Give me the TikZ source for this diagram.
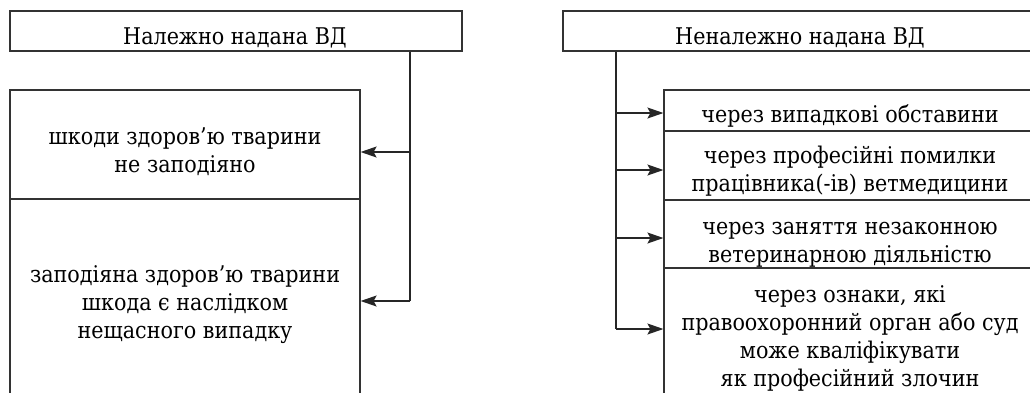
\documentclass[tikz,border=0pt]{standalone}
\usepackage{fontspec}
\setmainfont{DejaVu Serif Condensed}
\usetikzlibrary{shapes, arrows.meta}
\tikzstyle{line} = [draw, line width=1.2pt, black!85, -{Stealth[length=16pt, width=11pt, inset=3pt]}]
\tikzstyle{box} = [rectangle, draw=black!80, line width=1.2pt, inner sep=0pt]
\tikzstyle{txt} = [align=center, inner sep=0pt, anchor=base, font=\fontsize{23}{28}\selectfont]

\begin{document}
\begin{tikzpicture}[x=1pt, y=-1pt]
		\useasboundingbox (0,0) rectangle (1030,392);
		\clip (0,0) rectangle (1030,392);
		\def\lx{410}
		\def\rx{616}
		% left column
		\node[box, minimum width=452, minimum height=40] (L) at (236, 31) {};
		\node[box, minimum width=350, minimum height=109] (B1) at (185, 144.5) {};
		\node[box, minimum width=350, minimum height=202] (B2) at (185, 300) {};
		\node[txt] (tL) at (235, 44) {Належно надана ВД};
		\node[txt] (t1) at (185, 172) {шкоди здоров’ю тварини\\не заподіяно};
		\node[txt] (t2) at (185, 338) {заподіяна здоров’ю тварини\\шкода є наслідком\\нещасного випадку};
		
		% right column
		\node[box, minimum width=474, minimum height=40] (R) at (800, 31) {};
		\node[box, minimum width=373, minimum height=41] (R1) at (850.5, 110.5) {};
		\node[box, minimum width=373, minimum height=69] (R2) at (850.5, 165.5) {};
		\node[box, minimum width=373, minimum height=68] (R3) at (850.5, 234) {};
		\node[box, minimum width=373, minimum height=142] (R4) at (850.5, 339) {};
		\node[txt] (tR) at (800, 44) {Неналежно надана ВД};
		\node[txt] (s1) at (850, 122.5) {через випадкові обставини};
		\node[txt] (s2) at (850, 191) {через професійні помилки\\працівника(-ів) ветмедицини};
		\node[txt] (s3) at (850, 262) {через заняття незаконною\\ветеринарною діяльністю};
		\node[txt] (s4) at (850, 386) {через ознаки, які\\правоохоронний орган або суд\\може кваліфікувати\\як професійний злочин};
		
		\coordinate (a1) at (\lx, 152);
		\coordinate (a2) at (\lx, 301);
		\coordinate (b1) at (\rx, 113);
		\coordinate (b2) at (\rx, 170);
		\coordinate (b3) at (\rx, 238);
		\coordinate (b4) at (\rx, 329);
		
		\draw[line width=1.2pt, black!85] (L.south -| a2) -- (a2);
		\path [line] (a1) -- (a1 -| B1.east);
		\path [line] (a2) -- (a2 -| B2.east);
		\draw[line width=1.2pt, black!85] (R.south -| b4) -- (b4);
		\path [line] (b1) -- (b1 -| R1.west);
		\path [line] (b2) -- (b2 -| R2.west);
		\path [line] (b3) -- (b3 -| R3.west);
		\path [line] (b4) -- (b4 -| R4.west);
\end{tikzpicture}
\end{document}
